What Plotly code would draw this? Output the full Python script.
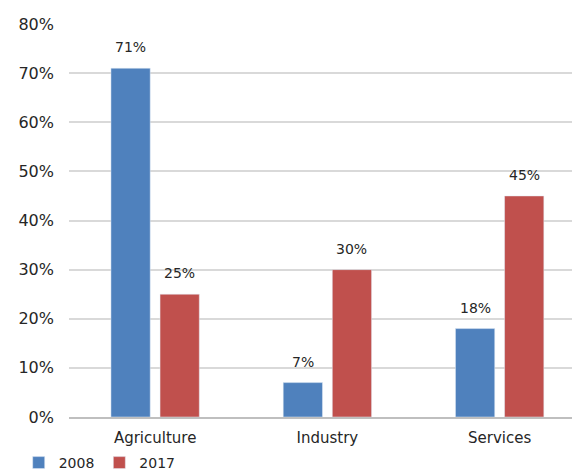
import plotly.graph_objects as go

categories = ["Agriculture", "Industry", "Services"]
v2008 = [0.71, 0.07, 0.18]
v2017 = [0.25, 0.30, 0.45]
series_names = ["2008", "2017"]
colors = ["#4F81BD", "#C0504D"]

font = "DejaVu Sans, Liberation Sans, sans-serif"

fig = go.Figure()
for name, vals, col in zip(series_names, [v2008, v2017], colors):
    fig.add_trace(go.Bar(
        name=name, x=categories, y=vals,
        marker=dict(color=col), offsetgroup=name,
    ))

# data labels as annotations, positioned via the data axes
slot_offset = 0.5 * (1 - 0.43) / 2  # half of a bar slot in category units
for i, vals in enumerate([v2008, v2017]):
    off = -slot_offset if i == 0 else slot_offset
    for j, v in enumerate(vals):
        fig.add_annotation(
            x=j + off, y=v, xref="x", yref="y",
            text=f"{v*100:.0f}%", showarrow=False,
            yanchor="middle", yshift=21,
            font=dict(size=14, color="#262626", family=font),
        )

fig.update_layout(
    width=572, height=470,
    margin=dict(l=69, r=0, t=24, b=53, autoexpand=False),
    paper_bgcolor="white", plot_bgcolor="white",
    barmode="group", bargap=0.43, bargroupgap=0.2,
    font=dict(family=font, color="#262626"),
    showlegend=True,
    legend=dict(orientation="h", x=-0.1, xref="paper", y=-46/393, yanchor="middle",
                xanchor="left", font=dict(size=14, color="#262626"),
                itemwidth=30, traceorder="normal", tracegroupgap=0),
)
fig.update_xaxes(range=[-0.5, 2.42], showline=True, linecolor="#bfbfbf", linewidth=2,
                 tickfont=dict(size=15, color="#262626"), ticks="", showgrid=False,
                 ticklabelstandoff=6)
fig.update_yaxes(range=[0, 0.8], dtick=0.1, tickformat=".0%", showgrid=True,
                 gridcolor="#d9d9d9", gridwidth=2, zeroline=False,
                 tickfont=dict(size=16, color="#262626"), ticks="", ticklabelstandoff=14)

fig.write_html("out.html")
